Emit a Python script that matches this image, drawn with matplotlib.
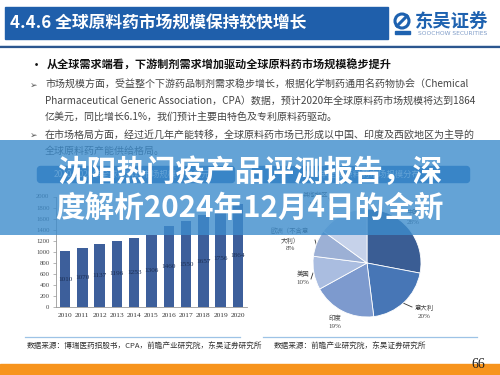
import matplotlib
matplotlib.use('Agg')
import matplotlib.pyplot as plt
from matplotlib.patches import Rectangle, FancyBboxPatch, Circle

plt.rcParams['font.family'] = ['Noto Sans CJK SC', 'DejaVu Sans']

# ---------------- data ----------------
years = ['2010', '2011', '2012', '2013', '2014', '2015', '2016', '2017', '2018', '2019', '2020']
market_size = [1010, 1070, 1137, 1196, 1253, 1306, 1460, 1550, 1657, 1756, 1864]
y_ticks = [0, 200, 400, 600, 800, 1000, 1200, 1400, 1600, 1800, 2000]

regions = ['中国', '意大利', '印度', '美国', '欧洲（不含意\n大利）', '其他地区']
shares = [28, 20, 19, 10, 8, 15]
pie_colors = ['#3a5d94', '#4776b6', '#7d9ace', '#aabde0', '#9cb0d5', '#c6d2ea']

header_title = '4.4.6 全球原料药市场规模保持较快增长'
bullet_main = '从全球需求端看，下游制剂需求增加驱动全球原料药市场规模稳步提升'
para1 = ['市场规模方面，受益整个下游药品制剂需求稳步增长，根据化学制药通用名药物协会（Chemical',
         'Pharmaceutical Generic Association，CPA）数据，预计2020年全球原料药市场规模将达到1864',
         '亿美元，同比增长6.1%，我们预计主要由特色及专利原料药驱动。']
para2 = ['在市场格局方面，经过近几年产能转移，全球原料药市场已形成以中国、印度及西欧地区为主导的',
         '全球原料药产能供给格局。']
bar_title = '2010-2020年全球原料药市场规模（亿美元）'
pie_title = '2019年全球原料药市场规模分布'
source_left = '数据来源：博瑞医药招股书，CPA，前瞻产业研究院，东吴证券研究所'
source_right = '数据来源：前瞻产业研究院，东吴证券研究所'
banner_lines = ['沈阳热门疫产品评测报告，深', '度解析2024年12月4日的全新']
page_no = '66'

W, H = 500, 375
fig = plt.figure(figsize=(5, 3.75), dpi=100)
fig.patch.set_facecolor('white')


def rect(x0, y0, x1, y1):
    return [x0 / W, 1 - y1 / H, (x1 - x0) / W, (y1 - y0) / H]


bg = fig.add_axes([0, 0, 1, 1])
bg.set_xlim(0, W)
bg.set_ylim(H, 0)
bg.axis('off')

# header
bg.add_patch(Rectangle((5, 7), 383, 32, color='#1f5fab', zorder=1))
bg.text(10, 23.5, header_title, color='white', fontsize=12.1, fontweight='bold', va='center', ha='left')
bg.plot([0, 500], [47, 47], color='#2b568f', lw=1.6)
bg.plot([0, 500], [44.5, 44.5], color='#c9d6e6', lw=0.6)
# logo
bg.add_patch(Circle((402, 21), 7, facecolor='none', edgecolor='#1e62b0', lw=2.2))
bg.plot([397, 407], [26, 16], color='#1e62b0', lw=2.2)
bg.add_patch(Rectangle((395, 31), 15, 3, color='#1e62b0'))
bg.text(415, 21.5, '东吴证券', color='#1e62b0', fontsize=13.2, fontweight='bold', va='center', ha='left')
bg.text(418, 33.5, 'SOOCHOW SECURITIES', color='#7f9cc8', fontsize=4.3, va='center', ha='left',
        family=['DejaVu Sans'])

# bullet text
bg.text(31, 65, '•', fontsize=8, fontweight='bold', color='#111111', va='center')
bg.text(47, 65, bullet_main, fontsize=8.0, fontweight='bold', color='#111111', va='center')
bg.text(30, 85, '➢', fontsize=6.5, color='#555555', va='center', family=['DejaVu Sans'])
for i, line in enumerate(para1):
    bg.text(45, 85 + i * 15.8, line, fontsize=7.2, color='#444444', va='center')
bg.text(30, 135, '➢', fontsize=6.5, color='#555555', va='center', family=['DejaVu Sans'])
for i, line in enumerate(para2):
    bg.text(45, 135 + i * 15.5, line, fontsize=7.2, color='#444444', va='center')

# chart title boxes
bg.add_patch(FancyBboxPatch((39, 168), 194, 13, boxstyle='round,pad=1.5,rounding_size=3',
                            color='#2e6cb4'))
bg.text(136, 174.5, bar_title, color='white', fontsize=6, va='center', ha='center')
bg.add_patch(FancyBboxPatch((254, 168), 214, 13, boxstyle='round,pad=1.5,rounding_size=3',
                            color='#2e6cb4'))
bg.text(361, 174.5, pie_title, color='white', fontsize=6, va='center', ha='center')

# source lines
bg.plot([25, 240], [337, 337], color='#9dc3e6', lw=0.9)
bg.plot([263, 477], [337, 337], color='#9dc3e6', lw=0.9)
bg.text(27, 346, source_left, fontsize=5.5, color='#333333', va='center')
bg.text(274, 346, source_right, fontsize=5.5, color='#333333', va='center')

# orange footer
bg.add_patch(Rectangle((0, 364), 500, 11, color='#f7941d'))
bg.text(478, 364, page_no, fontsize=10, color='#222222', va='center', ha='center',
        family=['Liberation Serif'])

# ---------------- bar chart ----------------
ax = fig.add_axes(rect(56.4, 196.5, 246.6, 307))
xs = list(range(len(years)))
ax.bar(xs, market_size, width=0.6, color='#3d5f9b', zorder=2)
for x, v in zip(xs, market_size):
    ax.text(x, v / 2, str(v), ha='center', va='center', fontsize=5.2,
            family=['Liberation Serif'], color='#1c2f55', zorder=3)
ax.set_xlim(-0.5, len(years) - 0.5)
ax.set_ylim(0, 2000)
ax.set_yticks(y_ticks)
ax.set_yticklabels([str(t) for t in y_ticks], fontsize=4.8, family=['Liberation Serif'], color='#444444')
ax.set_xticks(xs)
ax.set_xticklabels(years, fontsize=5.3, family=['Liberation Serif'], color='#333333')
ax.tick_params(axis='y', length=2, width=0.5, color='#999999', pad=3)
ax.tick_params(axis='x', length=0, pad=4)
for s in ['top', 'right']:
    ax.spines[s].set_visible(False)
for s in ['left', 'bottom']:
    ax.spines[s].set_color('#999999')
    ax.spines[s].set_linewidth(0.6)
ax.patch.set_alpha(0)

# ---------------- pie chart ----------------
pax = fig.add_axes(rect(313, 209, 421, 317))
pax.pie(shares, colors=pie_colors, startangle=90, counterclock=False,
        wedgeprops=dict(edgecolor='white', linewidth=0.6))
pax.set_xlim(-1, 1)
pax.set_ylim(-1, 1)
pax.set_aspect('equal')
pax.axis('off')

label_pos = {
    '中国': (413, 212, 222),
    '意大利': (424, 308, 316),
    '印度': (335, 318, 327),
    '美国': (303, 274, 283),
    '欧洲（不含意\n大利）': (290, 236, 249),
    '其他地区': (315, 195, 205),
}
for name, pct in zip(regions, shares):
    x, y1, y2 = label_pos[name]
    bg.text(x, y1, name, fontsize=4.6, color='#444444', ha='center', va='center', linespacing=1.5)
    bg.text(x, y2, f'{pct}%', fontsize=5, color='#444444', ha='center', va='center',
            family=['Liberation Serif'])
# leader lines
bg.plot([409, 403, 412], [296, 303, 307], color='#333333', lw=0.6)
bg.plot([311, 313], [279, 273], color='#333333', lw=0.6)
bg.plot([315, 317], [240, 247], color='#333333', lw=0.6)
bg.plot([329, 333], [198, 210], color='#333333', lw=0.6)

# ---------------- overlay banner ----------------
ov = fig.add_axes([0, 0, 1, 1])
ov.set_zorder(10)
ov.set_xlim(0, W)
ov.set_ylim(H, 0)
ov.axis('off')
ov.patch.set_visible(False)
ov.add_patch(Rectangle((0, 140), 500, 95, color='#3d8ccc', alpha=0.8, lw=0))
ov.text(251, 172, banner_lines[0], color='white', fontsize=21.3, fontweight='bold', ha='center', va='center')
ov.text(250, 208, banner_lines[1], color='white', fontsize=21.3, fontweight='bold', ha='center', va='center')

fig.savefig('out.png', dpi=100)
